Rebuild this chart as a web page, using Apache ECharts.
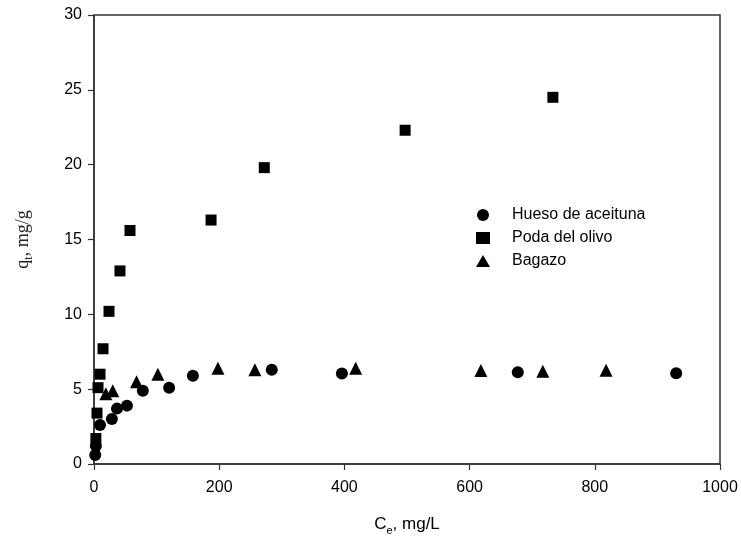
<!DOCTYPE html>
<html>
<head>
<meta charset="utf-8">
<script src="https://cdn.jsdelivr.net/npm/echarts@6/dist/echarts.min.js"></script>
<style>html,body{margin:0;padding:0;background:#fff;}#c{width:741px;height:541px;}</style>
</head>
<body>
<div id="c"></div>
<script>
const huesoX = [2, 3, 9.6, 28.6, 36.7, 52.7, 78, 120, 158, 284, 396, 677, 930];
const huesoY = [0.6, 1.2, 2.6, 3.0, 3.7, 3.9, 4.9, 5.1, 5.9, 6.3, 6.05, 6.13, 6.07];
const podaX = [3, 4.8, 6.4, 9.6, 14.4, 24, 41.5, 57.5, 187, 272, 497, 733];
const podaY = [1.7, 3.4, 5.1, 6.0, 7.7, 10.2, 12.9, 15.6, 16.3, 19.8, 22.3, 24.5];
const bagazoX = [19, 30, 68, 102, 198, 257, 418, 618, 717, 818];
const bagazoY = [4.7, 4.9, 5.5, 6.0, 6.4, 6.3, 6.4, 6.25, 6.2, 6.27];
const seriesNames = ['Hueso de aceituna', 'Poda del olivo', 'Bagazo'];
const xTicks = {min: 0, max: 1000, interval: 200};
const yTicks = {min: 0, max: 30, interval: 5};

const zip = (xs, ys) => xs.map((x, i) => [x, ys[i]]);
const chart = echarts.init(document.getElementById('c'));
const labelStyle = {color: '#000', fontFamily: 'Liberation Sans', fontSize: 16, formatter: v => String(v)};
const axisCommon = {
  axisLine: {show: true, onZero: false, lineStyle: {color: '#333', width: 1.5}},
  axisTick: {show: true, inside: false, length: 6, lineStyle: {color: '#333', width: 1.2}},
  splitLine: {show: false}
};
chart.setOption({
  animation: false,
  backgroundColor: '#fff',
  grid: {left: 94, right: 21, top: 15, bottom: 76, show: true, borderColor: '#333', borderWidth: 1.5},
  legend: {
    orient: 'vertical', left: 471, top: 202, itemGap: 7, itemWidth: 14, itemHeight: 12,
    textStyle: {fontFamily: 'Liberation Sans', fontSize: 16, color: '#000', padding: [0, 0, 0, 17]},
    data: [
      {name: seriesNames[0], icon: 'circle'},
      {name: seriesNames[1], icon: 'rect'},
      {name: seriesNames[2], icon: 'triangle'}
    ]
  },
  xAxis: Object.assign({
    type: 'value', min: xTicks.min, max: xTicks.max, interval: xTicks.interval,
    name: '{a|C}{s|e}{a|, mg/L}', nameLocation: 'middle', nameGap: 52,
    nameTextStyle: {rich: {
      a: {fontFamily: 'Liberation Sans', fontSize: 17, color: '#000'},
      s: {fontFamily: 'Liberation Sans', fontSize: 11, color: '#000', verticalAlign: 'bottom', padding: [0, 0, -3, 0]}
    }},
    axisLabel: Object.assign({margin: 16}, labelStyle)
  }, axisCommon),
  yAxis: Object.assign({
    type: 'value', min: yTicks.min, max: yTicks.max, interval: yTicks.interval,
    name: '{a|q}{s|t}{a|, mg/g}', nameLocation: 'middle', nameGap: 62,
    nameTextStyle: {rich: {
      a: {fontFamily: 'Liberation Serif', fontSize: 18, color: '#222'},
      s: {fontFamily: 'Liberation Serif', fontSize: 12, color: '#222', verticalAlign: 'bottom', padding: [0, 0, -3, 0]}
    }},
    axisLabel: Object.assign({margin: 12}, labelStyle)
  }, axisCommon),
  series: [
    {name: seriesNames[0], type: 'scatter', symbol: 'circle', symbolSize: 12, itemStyle: {color: '#000', opacity: 1}, data: zip(huesoX, huesoY)},
    {name: seriesNames[1], type: 'scatter', symbol: 'rect', symbolSize: 11, itemStyle: {color: '#000', opacity: 1}, data: zip(podaX, podaY)},
    {name: seriesNames[2], type: 'scatter', symbol: 'triangle', symbolSize: 13, itemStyle: {color: '#000', opacity: 1}, data: zip(bagazoX, bagazoY)}
  ]
});
</script>
</body>
</html>
